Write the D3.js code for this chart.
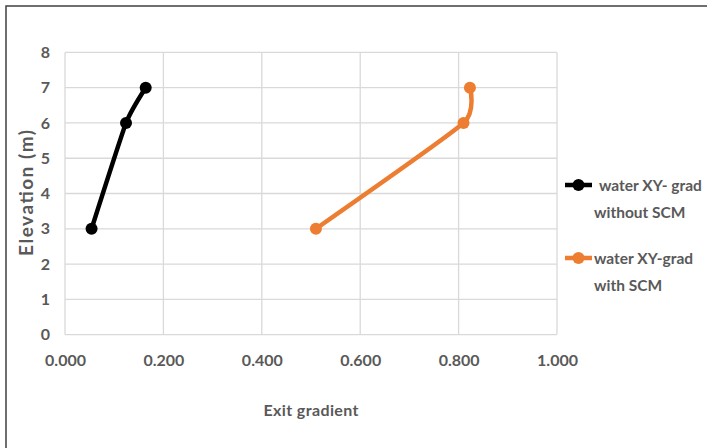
<!DOCTYPE html>
<html>
<head>
<meta charset="utf-8">
<script src="https://cdn.jsdelivr.net/npm/d3@7"></script>
<style>
  html, body { margin: 0; padding: 0; background: #fff; }
  svg { display: block; }
  text { font-family: Lato, "Open Sans", sans-serif; font-weight: bold; fill: #595959; }
</style>
</head>
<body>
<svg id="chart" width="707" height="448"></svg>
<script>
// Exit gradient (x) against elevation (y) for each case
const elevation = [3, 6, 7];
const gradWithoutSCM = [0.054, 0.124, 0.164];
const gradWithSCM = [0.510, 0.810, 0.823];
const seriesNames = [["water XY- grad", "without SCM"], ["water XY-grad", "with SCM"]];
const seriesColors = ["#000000", "#ED7D31"];
const xTicks = [0, 0.2, 0.4, 0.6, 0.8, 1.0];
const yTicks = [0, 1, 2, 3, 4, 5, 6, 7, 8];

const svg = d3.select("#chart");

// outer chart frame (only left and top edges fall inside the canvas)
svg.append("rect")
  .attr("x", 6).attr("y", 6)
  .attr("width", 760).attr("height", 500)
  .attr("fill", "none").attr("stroke", "#404040").attr("stroke-width", 1.5);

const x = d3.scaleLinear().domain([0, 1]).range([65, 557]);
const y = d3.scaleLinear().domain([0, 8]).range([334.6, 52.4]);

// gridlines
const grid = svg.append("g").attr("stroke", "#D9D9D9").attr("stroke-width", 1.3);
grid.selectAll(".gx").data(xTicks).join("line")
  .attr("x1", d => x(d)).attr("x2", d => x(d))
  .attr("y1", y(0)).attr("y2", y(8));
grid.selectAll(".gy").data(yTicks).join("line")
  .attr("x1", x(0)).attr("x2", x(1))
  .attr("y1", d => y(d)).attr("y2", d => y(d));

// axes (labels only, Excel style)
const xAxis = svg.append("g").attr("transform", `translate(0,${y(0)})`)
  .call(d3.axisBottom(x).tickValues(xTicks).tickFormat(d3.format(".3f")).tickSize(0).tickPadding(20));
xAxis.select(".domain").remove();
xAxis.selectAll("text").style("font-size", "16px").attr("fill", "#595959").attr("font-family", null);

const yAxis = svg.append("g").attr("transform", `translate(${x(0)},0)`)
  .call(d3.axisLeft(y).tickValues(yTicks).tickFormat(d3.format("d")).tickSize(0).tickPadding(15));
yAxis.select(".domain").remove();
yAxis.selectAll("text").style("font-size", "16px").attr("fill", "#595959").attr("font-family", null);

// axis titles
svg.append("text")
  .attr("x", 311).attr("y", 416)
  .attr("text-anchor", "middle")
  .style("font-size", "16px")
  .attr("textLength", 95)
  .text("Exit gradient");
svg.append("text")
  .attr("transform", "translate(33,193) rotate(-90)")
  .attr("text-anchor", "middle")
  .style("font-size", "19px")
  .attr("textLength", 126)
  .text("Elevation (m)");

// series
const series = [gradWithoutSCM, gradWithSCM].map((vals, i) => ({
  color: seriesColors[i],
  pts: vals.map((v, j) => [v, elevation[j]])
}));
const line = d3.line().x(d => x(d[0])).y(d => y(d[1])).curve(d3.curveCardinal.tension(0.5));

series.forEach(s => {
  svg.append("path")
    .attr("d", line(s.pts))
    .attr("fill", "none")
    .attr("stroke", s.color)
    .attr("stroke-width", 4.5)
    .attr("stroke-linecap", "round");
  svg.selectAll(null).data(s.pts).join("circle")
    .attr("cx", d => x(d[0])).attr("cy", d => y(d[1]))
    .attr("r", 6).attr("fill", s.color);
});

// legend
const legendY = [185, 258];
series.forEach((s, i) => {
  const g = svg.append("g");
  g.append("line")
    .attr("x1", 565).attr("x2", 592)
    .attr("y1", legendY[i]).attr("y2", legendY[i])
    .attr("stroke", s.color).attr("stroke-width", 4.5);
  g.append("circle").attr("cx", 578.5).attr("cy", legendY[i]).attr("r", 6).attr("fill", s.color);
  g.append("text")
    .attr("x", i === 0 ? 599 : 594).attr("y", legendY[i] + 6)
    .style("font-size", "15.5px")
    .text(seriesNames[i][0]);
  g.append("text")
    .attr("x", 594).attr("y", legendY[i] + 33)
    .style("font-size", "15.5px")
    .text(seriesNames[i][1]);
});
</script>
</body>
</html>
